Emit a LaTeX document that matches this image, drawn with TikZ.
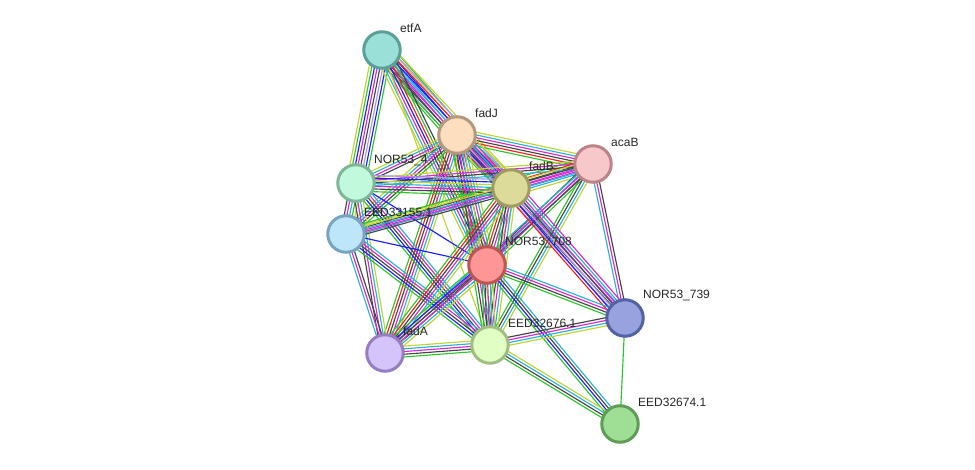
\documentclass[tikz,border=0pt]{standalone}
\usepackage{fontspec}
\setmainfont{Liberation Sans}
\usetikzlibrary{calc}
\pgfdeclarelayer{bg}
\pgfsetlayers{bg,main}
\definecolor{kgr}{RGB}{46,196,46}
\definecolor{krd}{RGB}{250,30,30}
\definecolor{kbl}{RGB}{30,30,250}
\definecolor{khm}{RGB}{165,150,250}
\definecolor{kco}{RGB}{70,70,70}
\definecolor{kex}{RGB}{215,40,215}
\definecolor{kdb}{RGB}{40,180,215}
\definecolor{ktm}{RGB}{192,212,50}
\tikzset{
  prot/.style={circle, minimum size=36.5pt, inner sep=0pt, line width=3pt},
  lbl/.style={anchor=west, font=\fontsize{12}{12}\selectfont, inner sep=0pt, text=black!85},
  link/.style={line width=1.15pt}
}
\newcommand\sedge[3]{%
  \gdef\ncnt{0}%
  \foreach \c in {#3}{\xdef\ncnt{\the\numexpr\ncnt+1\relax}}%
  \foreach \c [count=\i] in {#3}{%
    \pgfmathsetmacro\off{(\i-(\ncnt+1)/2)*2.7}%
    \draw[link, \c] ($(#1)!\off pt!90:(#2)$) -- ($(#2)!\off pt!-90:(#1)$);
  }}
\begin{document}
\begin{tikzpicture}[x=1pt,y=-1pt]
\useasboundingbox (0,0) rectangle (975,470);
% nodes
\node[prot, fill={rgb,255:red,155;green,224;blue,216}, draw={rgb,255:red,90;green,160;blue,152}] (E) at (382,50) {};
\node[prot, fill={rgb,255:red,253;green,223;blue,192}, draw={rgb,255:red,182;green,152;blue,124}] (J) at (457,135) {};
\node[prot, fill={rgb,255:red,247;green,200;blue,202}, draw={rgb,255:red,188;green,132;blue,134}] (A) at (593,164) {};
\node[prot, fill={rgb,255:red,192;green,249;blue,219}, draw={rgb,255:red,128;green,182;blue,152}] (N4) at (356,183) {};
\node[prot, fill={rgb,255:red,220;green,219;blue,154}, draw={rgb,255:red,158;green,156;blue,96}] (B) at (511,188) {};
\node[prot, fill={rgb,255:red,190;green,230;blue,250}, draw={rgb,255:red,122;green,164;blue,190}] (S) at (346,234) {};
\node[prot, fill={rgb,255:red,255;green,150;blue,150}, draw={rgb,255:red,190;green,84;blue,84}] (N7) at (487,265) {};
\node[prot, fill={rgb,255:red,152;green,162;blue,222}, draw={rgb,255:red,82;green,96;blue,164}] (N9) at (625,318) {};
\node[prot, fill={rgb,255:red,212;green,196;blue,251}, draw={rgb,255:red,150;green,126;blue,192}] (FA) at (385,353) {};
\node[prot, fill={rgb,255:red,225;green,254;blue,196}, draw={rgb,255:red,160;green,190;blue,130}] (C6) at (490,345) {};
\node[prot, fill={rgb,255:red,158;green,223;blue,149}, draw={rgb,255:red,96;green,156;blue,86}] (C4) at (620,424) {};
% labels
\node[lbl] (lE) at (400,28) {etfA};
\node[lbl] (lJ) at (475,113) {fadJ};
\node[lbl] (lA) at (611,142) {acaB};
\node[lbl] (lN4) at (374,161) {NOR53\_4};
\node[lbl] (lB) at (529,166) {fadB};
\node[lbl] (lS) at (364,212) {EED33155.1};
\node[lbl] (lN7) at (505,243) {NOR53\_708};
\node[lbl] (lN9) at (643,296) {NOR53\_739};
\node[lbl] (lFA) at (403,331) {fadA};
\node[lbl] (lC6) at (508,323) {EED32676.1};
\node[lbl] (lC4) at (638,402) {EED32674.1};
% edges
\begin{pgfonlayer}{bg}
\sedge{E}{J}{kgr,khm,kco,kex,kdb,kbl,ktm,kgr}
\sedge{E}{N4}{ktm,kgr,kbl,kex,kco,khm,kbl,kgr}
\sedge{E}{B}{kgr,kco,kex,kdb,kbl,krd,khm,ktm}
\sedge{E}{N7}{ktm,kdb,kex,kbl,krd,kgr,kco}
\sedge{E}{C6}{ktm}
\sedge{J}{A}{kgr,krd,kco,kex,kdb,ktm}
\sedge{J}{B}{kgr,krd,kbl,khm,kco,kex,kdb,ktm}
\sedge{J}{N4}{ktm,kdb,kex,kco}
\sedge{J}{S}{ktm,kdb,kex,kco,kgr}
\sedge{J}{N7}{kgr,krd,kbl,kco,kex,kdb,ktm}
\sedge{J}{FA}{kgr,krd,kco,kex,kdb,ktm}
\sedge{J}{C6}{kgr,kco,kex,kdb,ktm}
\sedge{J}{N9}{khm,kco,kex,kdb}
\sedge{A}{B}{kgr,krd,kco,kex,kex,kdb,ktm}
\sedge{A}{N4}{ktm,kex,kco,kdb}
\sedge{A}{S}{ktm,kco,kex,kdb}
\sedge{A}{N7}{kco,kdb,kex,kgr}
\sedge{A}{N9}{kdb,kex,kco}
\sedge{A}{C6}{kgr,kco,kdb,ktm}
\sedge{A}{FA}{kdb,kex,kco}
\sedge{N4}{B}{kgr,kco,kex,kdb,ktm,kbl,khm}
\sedge{N4}{S}{kco,kex,kdb,kgr,ktm}
\sedge{N4}{N7}{kbl}
\sedge{N4}{FA}{kco,kex,kdb,ktm}
\sedge{N4}{C6}{kgr,kbl,kco,kex,kdb}
\sedge{S}{B}{kco,kex,kdb,ktm,kgr}
\sedge{S}{N7}{kbl}
\sedge{S}{FA}{kdb,kex,kco}
\sedge{S}{C6}{kgr,kbl,kco,kex,kdb}
\sedge{B}{N7}{kgr,krd,kco,kex,kdb,ktm}
\sedge{B}{N9}{krd,kbl,khm,kco,kex,kdb,kex}
\sedge{B}{FA}{kgr,krd,kco,kex,kdb,ktm}
\sedge{B}{C6}{kgr,kco,kex,kdb,ktm}
\sedge{N7}{N9}{kgr,kco,kex,kdb}
\sedge{N7}{FA}{kgr,kbl,kco,kex,kdb,ktm}
\sedge{N7}{C6}{kgr,kco,kex,kdb,ktm}
\sedge{N7}{C4}{kgr,kbl,kco,kdb}
\sedge{N9}{C6}{kco,kex,kdb,ktm}
\sedge{N9}{C4}{kgr}
\sedge{FA}{C6}{kgr,kco,kex,kdb,ktm}
\sedge{C6}{C4}{kgr,kco,kdb,ktm}
\end{pgfonlayer}
\end{tikzpicture}
\end{document}
